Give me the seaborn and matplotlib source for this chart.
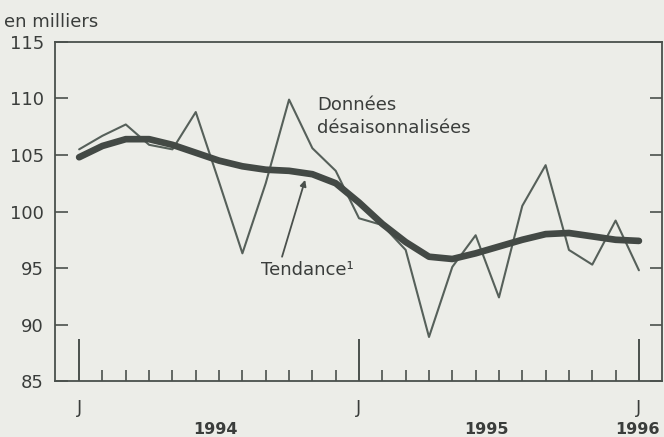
import pandas as pd
import matplotlib.pyplot as plt
import seaborn as sns

# monthly values, Jan 1994 .. Jan 1996 (thousands)
months = list(range(25))
donnees = [105.5, 106.7, 107.7, 105.9, 105.5, 108.8, 102.6, 96.3, 102.5, 109.9,
           105.6, 103.6, 99.4, 98.8, 96.6, 88.9, 95.1, 97.9, 92.4, 100.5,
           104.1, 96.6, 95.3, 99.2, 94.8]
tendance = [104.8, 105.8, 106.4, 106.4, 105.9, 105.2, 104.5, 104.0, 103.7, 103.6,
            103.3, 102.5, 100.8, 98.9, 97.3, 96.0, 95.8, 96.3, 96.9, 97.5,
            98.0, 98.1, 97.8, 97.5, 97.4]
years = ['1994', '1995', '1996']

df = pd.DataFrame({'mois': months, 'donnees': donnees, 'tendance': tendance})

sns.set_style('white')
plt.rcParams['font.family'] = ['DejaVu Sans']
txt = '#3a3d3b'
bg = '#ecede8'
fs = 13

fig = plt.figure(figsize=(6.64, 4.37), dpi=100, facecolor=bg)
ax = fig.add_axes([0.083, 0.128, 0.914, 0.776])
ax.set_facecolor(bg)

sns.lineplot(data=df, x='mois', y='donnees', ax=ax, color='#56605a', lw=1.5)
sns.lineplot(data=df, x='mois', y='tendance', ax=ax, color='#434945', lw=4.8,
             solid_capstyle='round')

ax.set_xlim(-1.03, 24.99)
ax.set_ylim(85, 115)
ax.set_xlabel('')
ax.set_ylabel('')

for s in ax.spines.values():
    s.set_color('#4a504c')
    s.set_linewidth(1.3)

ax.set_yticks(range(85, 116, 5))
ax.tick_params(axis='y', direction='in', length=9, width=1.2, color='#4a504c',
               labelsize=fs, labelcolor=txt, right=True, left=True, pad=8)
ax.set_yticklabels([str(v) for v in range(85, 116, 5)])

ax.set_xticks([0, 12, 24])
ax.set_xticklabels(['J', 'J', 'J'])
ax.set_xticks([m for m in months if m % 12 != 0], minor=True)
ax.tick_params(axis='x', which='major', direction='in', length=30, width=1.4,
               color='#4a504c', labelsize=fs, labelcolor=txt, pad=13, bottom=True)
ax.tick_params(axis='x', which='minor', direction='in', length=8, width=1.2,
               color='#4a504c', bottom=True)

# year labels under the axis
for x, y in zip([5.85, 17.45, 23.95], years):
    ax.text(x, -0.143, y, transform=ax.get_xaxis_transform(), ha='center',
            va='center', fontsize=fs - 1.5, fontweight='bold', color=txt)

fig.text(0.006, 0.95, 'en milliers', fontsize=fs, color=txt, va='center')

ax.text(10.2, 108.4, 'Données\ndésaisonnalisées', fontsize=fs, color=txt,
        va='center', linespacing=1.4)
ax.text(7.8, 94.8, 'Tendance¹', fontsize=fs, color=txt, va='center')
ax.annotate('', xy=(9.69, 102.8), xytext=(8.7, 96.0),
            arrowprops=dict(arrowstyle='-|>', color='#4a504c', lw=1.3,
                            shrinkA=0, shrinkB=0, mutation_scale=9))

plt.savefig('out.png', dpi=100, facecolor=bg)
